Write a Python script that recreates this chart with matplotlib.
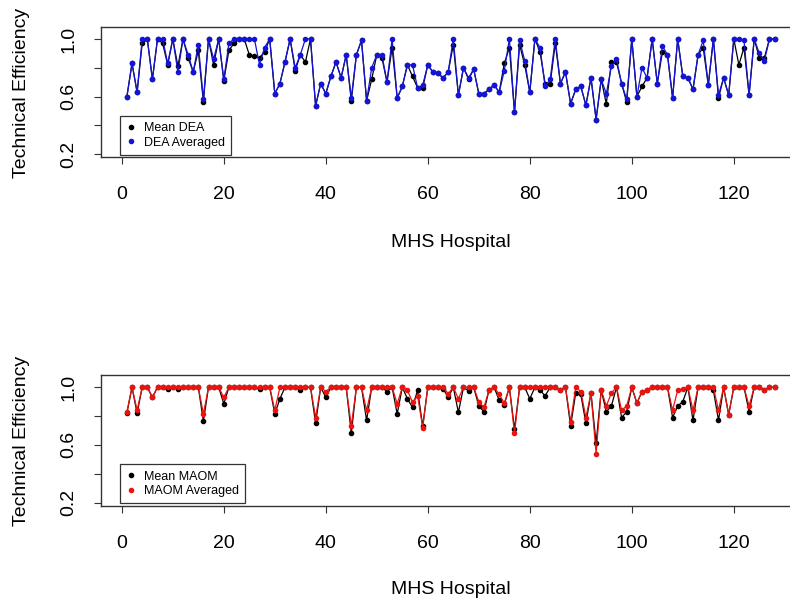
import matplotlib
matplotlib.use("Agg")
import matplotlib.pyplot as plt
from matplotlib.lines import Line2D
import numpy as np

plt.rcParams['font.family'] = ['Liberation Sans', 'DejaVu Sans']

hospital = list(range(1, 129))

dea_averaged = [
    0.60, 0.83, 0.63, 1.00, 1.00, 0.72, 1.00, 1.00, 0.83, 1.00,
    0.77, 1.00, 0.89, 0.77, 0.96, 0.58, 1.00, 0.86, 1.00, 0.72,
    0.97, 1.00, 1.00, 1.00, 1.00, 1.00, 0.82, 0.94, 1.00, 0.62,
    0.69, 0.84, 1.00, 0.80, 0.89, 1.00, 1.00, 0.535, 0.69, 0.62,
    0.74, 0.84, 0.73, 0.89, 0.59, 0.89, 0.99, 0.57, 0.80, 0.89,
    0.89, 0.70, 1.00, 0.59, 0.67, 0.82, 0.82, 0.66, 0.68, 0.82,
    0.77, 0.76, 0.73, 0.77, 1.00, 0.61, 0.80, 0.73, 0.79, 0.62,
    0.62, 0.65, 0.68, 0.63, 0.78, 1.00, 0.49, 0.99, 0.85, 0.63,
    1.00, 0.94, 0.67, 0.72, 1.00, 0.69, 0.77, 0.55, 0.65, 0.67,
    0.54, 0.73, 0.44, 0.72, 0.62, 0.81, 0.86, 0.69, 0.58, 1.00,
    0.60, 0.80, 0.73, 1.00, 0.69, 0.95, 0.89, 0.59, 1.00, 0.74,
    0.73, 0.65, 0.89, 0.99, 0.68, 1.00, 0.61, 0.73, 0.61, 1.00,
    1.00, 0.99, 0.61, 1.00, 0.90, 0.85, 1.00, 1.00]

dea_mean = [
    0.60, 0.83, 0.63, 0.97, 1.00, 0.72, 1.00, 0.97, 0.82, 1.00,
    0.81, 1.00, 0.87, 0.77, 0.92, 0.56, 1.00, 0.82, 1.00, 0.71,
    0.92, 0.97, 1.00, 1.00, 0.89, 0.88, 0.87, 0.91, 1.00, 0.62,
    0.69, 0.84, 1.00, 0.78, 0.89, 0.84, 1.00, 0.535, 0.69, 0.62,
    0.74, 0.84, 0.73, 0.89, 0.57, 0.89, 0.99, 0.57, 0.72, 0.89,
    0.87, 0.70, 0.94, 0.59, 0.67, 0.82, 0.74, 0.66, 0.66, 0.82,
    0.77, 0.76, 0.73, 0.77, 0.96, 0.61, 0.80, 0.72, 0.79, 0.62,
    0.62, 0.65, 0.68, 0.63, 0.83, 0.94, 0.49, 0.96, 0.82, 0.63,
    1.00, 0.91, 0.69, 0.69, 0.97, 0.69, 0.77, 0.55, 0.65, 0.67,
    0.54, 0.73, 0.44, 0.72, 0.55, 0.84, 0.84, 0.69, 0.56, 1.00,
    0.60, 0.67, 0.73, 1.00, 0.69, 0.91, 0.89, 0.59, 1.00, 0.74,
    0.73, 0.65, 0.89, 0.94, 0.68, 1.00, 0.59, 0.73, 0.61, 1.00,
    0.82, 0.94, 0.61, 1.00, 0.87, 0.87, 1.00, 1.00]

maom_averaged = [
    0.83, 1.00, 0.84, 1.00, 1.00, 0.93, 1.00, 1.00, 1.00, 1.00,
    1.00, 1.00, 1.00, 1.00, 1.00, 0.815, 1.00, 1.00, 1.00, 0.93,
    1.00, 1.00, 1.00, 1.00, 1.00, 1.00, 1.00, 1.00, 1.00, 0.84,
    1.00, 1.00, 1.00, 1.00, 1.00, 1.00, 1.00, 0.79, 1.00, 0.97,
    1.00, 1.00, 1.00, 1.00, 0.73, 1.00, 1.00, 0.84, 1.00, 1.00,
    1.00, 1.00, 1.00, 0.885, 1.00, 0.98, 0.895, 0.94, 0.72, 1.00,
    1.00, 1.00, 1.00, 0.955, 1.00, 0.92, 1.00, 1.00, 1.00, 0.90,
    0.86, 0.98, 1.00, 0.95, 0.89, 1.00, 0.68, 1.00, 1.00, 1.00,
    1.00, 1.00, 1.00, 1.00, 1.00, 0.98, 1.00, 0.76, 1.00, 0.97,
    0.79, 0.96, 0.54, 0.98, 0.87, 0.96, 1.00, 0.84, 0.87, 1.00,
    0.89, 0.97, 0.98, 1.00, 1.00, 1.00, 1.00, 0.84, 0.98, 0.99,
    1.00, 0.84, 1.00, 1.00, 1.00, 1.00, 0.84, 1.00, 0.81, 1.00,
    1.00, 1.00, 0.87, 1.00, 1.00, 0.98, 1.00, 1.00]

maom_mean = [
    0.82, 1.00, 0.82, 1.00, 1.00, 0.93, 1.00, 1.00, 0.985, 1.00,
    0.99, 1.00, 1.00, 1.00, 1.00, 0.765, 1.00, 1.00, 1.00, 0.885,
    1.00, 1.00, 1.00, 1.00, 1.00, 1.00, 0.985, 1.00, 1.00, 0.815,
    0.92, 1.00, 1.00, 1.00, 0.98, 1.00, 1.00, 0.75, 1.00, 0.93,
    1.00, 1.00, 1.00, 1.00, 0.68, 1.00, 1.00, 0.77, 1.00, 1.00,
    1.00, 0.97, 1.00, 0.815, 1.00, 0.92, 0.86, 0.98, 0.73, 1.00,
    1.00, 1.00, 0.99, 0.93, 1.00, 0.826, 1.00, 0.975, 1.00, 0.87,
    0.83, 0.98, 1.00, 0.91, 0.88, 1.00, 0.71, 1.00, 1.00, 0.92,
    1.00, 0.98, 0.94, 1.00, 1.00, 0.98, 1.00, 0.73, 0.96, 0.95,
    0.75, 0.96, 0.61, 0.98, 0.83, 0.87, 1.00, 0.79, 0.83, 1.00,
    0.89, 0.97, 0.98, 1.00, 1.00, 1.00, 1.00, 0.79, 0.87, 0.90,
    1.00, 0.77, 1.00, 1.00, 1.00, 0.98, 0.77, 1.00, 0.81, 1.00,
    1.00, 1.00, 0.83, 1.00, 1.00, 0.98, 1.00, 1.00]

x_ticks = [0, 20, 40, 60, 80, 100, 120]
y_ticks = [0.2, 0.4, 0.6, 0.8, 1.0]
y_ticklabels = ["0.2", "", "0.6", "", "1.0"]

W, H = 790, 602
fig = plt.figure(figsize=(W / 100, H / 100), dpi=100)

panels = [
    dict(top=26.7, bottom=157.3, mean=dea_mean, avg=dea_averaged,
         color="#1414d8", labels=["Mean DEA", "DEA Averaged"],
         xlab_y=242, ylab_y=93),
    dict(top=375.0, bottom=505.7, mean=maom_mean, avg=maom_averaged,
         color="#e8140f", labels=["Mean MAOM", "MAOM Averaged"],
         xlab_y=590, ylab_y=441),
]

left_px, right_px = 101.0, 800.5
for p in panels:
    ax = fig.add_axes([left_px / W, 1 - p["bottom"] / H,
                       (right_px - left_px) / W, (p["bottom"] - p["top"]) / H])
    ax.plot(hospital, p["mean"], color="black", lw=0.9, marker="o",
            ms=3.0, mec="black", mfc="black", zorder=2)
    ax.plot(hospital, p["avg"], color=p["color"], lw=0.9, marker="o",
            ms=3.0, mec=p["color"], mfc=p["color"], zorder=3)
    ax.set_xlim(-4.08, 133.08)
    ax.set_ylim(0.178, 1.085)
    ax.set_xticks(x_ticks)
    ax.set_xticklabels([str(t) for t in x_ticks], fontsize=14)
    ax.set_yticks(y_ticks)
    ax.set_yticklabels(y_ticklabels, fontsize=14, rotation=90, va="center")
    ax.tick_params(axis="both", direction="out", length=5, width=0.8,
                   color="#333333")
    ax.tick_params(axis="x", pad=16)
    ax.tick_params(axis="y", pad=12)
    for s in ax.spines.values():
        s.set_linewidth(1.0)
        s.set_color("#333333")
    handles = [
        Line2D([], [], ls="none", marker="o", ms=3.0, color="black"),
        Line2D([], [], ls="none", marker="o", ms=3.0, color=p["color"]),
    ]
    leg = ax.legend(handles, p["labels"], loc="lower left",
                    bbox_to_anchor=(0.027, 0.018), borderaxespad=0,
                    fontsize=9, frameon=True, fancybox=False,
                    handlelength=0.8, handletextpad=0.6, borderpad=0.5,
                    labelspacing=0.2)
    leg.get_frame().set_edgecolor("black")
    leg.get_frame().set_linewidth(0.9)
    fig.text((left_px + right_px) / 2 / W - 0.0, 1 - p["xlab_y"] / H,
             "MHS Hospital", ha="center", va="center", fontsize=14)
    fig.text(22 / W, 1 - p["ylab_y"] / H, "Technical Efficiency",
             ha="center", va="center", rotation=90, fontsize=14)

fig.savefig("out.png", dpi=100)
